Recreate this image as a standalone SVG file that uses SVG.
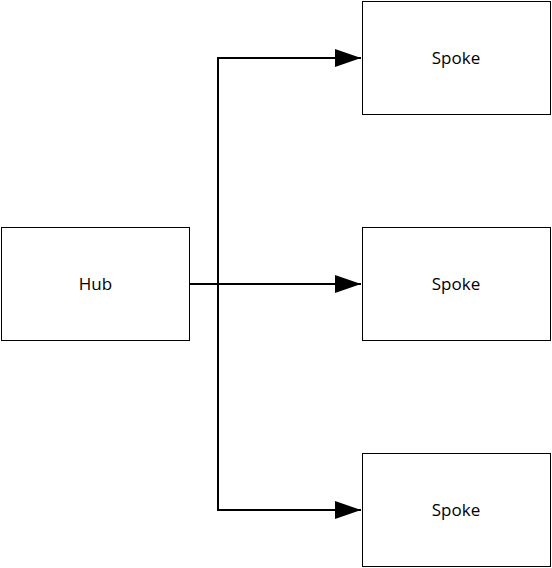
<svg xmlns="http://www.w3.org/2000/svg" width="552" height="568" viewBox="0 0 552 568">
<style>
.box{fill:#fff;stroke:#000;stroke-width:1}
.lbl{font-family:"Open Sans","Noto Sans",sans-serif;font-size:17px;fill:#000;text-anchor:middle;dominant-baseline:central}
.con{fill:none;stroke:#000;stroke-width:2}
</style>
<defs>
<marker id="arr" markerUnits="userSpaceOnUse" markerWidth="26" markerHeight="18" refX="26" refY="9" orient="auto">
<path d="M0,0 L26,9 L0,18 Z" fill="#000"/>
</marker>
</defs>
<rect width="552" height="568" fill="#fff"/>
<g id="connectors">
<path class="con" d="M189,284 H218 V58 H361" marker-end="url(#arr)"/>
<path class="con" d="M218,284 H361" marker-end="url(#arr)"/>
<path class="con" d="M218,284 V510 H361" marker-end="url(#arr)"/>
</g>
<g id="hub"><rect class="box" x="1.5" y="227.5" width="188" height="113"/><text class="lbl" x="95.5" y="283">Hub</text></g>
<g id="spoke1"><rect class="box" x="362.5" y="1.5" width="188" height="113"/><text class="lbl" x="456" y="57">Spoke</text></g>
<g id="spoke2"><rect class="box" x="362.5" y="227.5" width="188" height="113"/><text class="lbl" x="456" y="283">Spoke</text></g>
<g id="spoke3"><rect class="box" x="362.5" y="453.5" width="188" height="113"/><text class="lbl" x="456" y="509">Spoke</text></g>
</svg>
